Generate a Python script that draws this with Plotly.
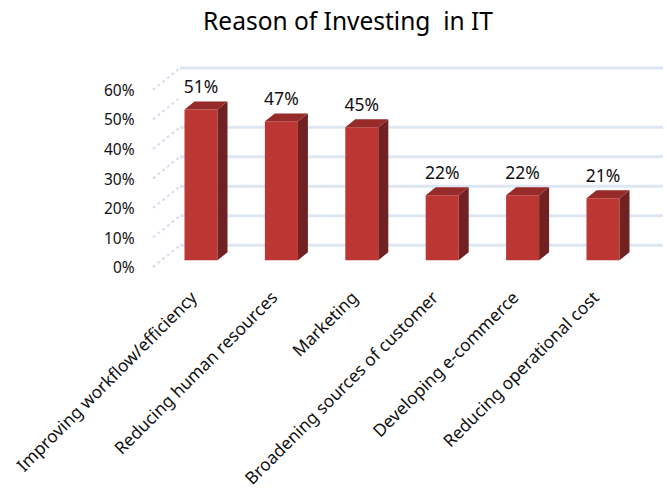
import plotly.graph_objects as go

# ---- data ----
categories = ["Improving workflow/efficiency", "Reducing human resources", "Marketing",
              "Broadening sources of customer", "Developing e-commerce", "Reducing operational cost"]
values = [51, 47, 45, 22, 22, 21]
tick_values = [0, 10, 20, 30, 40, 50, 60]
tick_labels = ["0%", "10%", "20%", "30%", "40%", "50%", "60%"]
back_grid_values = [0, 10, 20, 30, 40, 60]

# ---- geometry (pixel -> data unit conversions) ----
PX_X = 80.4      # px per category
PX_Y = 2.98      # px per percent
bar_w = 33 / PX_X
ddx = 10 / PX_X          # bar depth offset (x)
ddy = 8 / PX_Y           # bar depth offset (y)
back_dy = 15 / PX_Y      # back wall offset
front_dy = -7 / PX_Y     # front wall offset
wall_x0 = (153 - 201) / PX_X
wall_x1 = (180 - 201) / PX_X
wall_x2 = (663 - 201) / PX_X
label_x = (137 - 201) / PX_X
cat_shift = -9 / PX_X

x = list(range(len(categories)))

fig = go.Figure()

# front faces
fig.add_trace(go.Bar(x=x, y=values, width=bar_w, marker=dict(color="#bc3633", line=dict(width=0)),
                     hoverinfo="skip", showlegend=False))

# side and top faces
sx, sy = [], []
tx, ty = [], []
for xi, v in zip(x, values):
    xl, xr = xi - bar_w / 2, xi + bar_w / 2
    sx += [xr, xr + ddx, xr + ddx, xr, xr, None]
    sy += [0, ddy, v + ddy, v, 0, None]
    tx += [xl, xl + ddx, xr + ddx, xr, xl, None]
    ty += [v, v + ddy, v + ddy, v, v, None]
fig.add_trace(go.Scatter(x=sx, y=sy, fill="toself", fillcolor="#712121", mode="lines",
                         line=dict(width=0, color="#712121"), hoverinfo="skip", showlegend=False))
fig.add_trace(go.Scatter(x=tx, y=ty, fill="toself", fillcolor="#972b29", mode="lines",
                         line=dict(width=0, color="#972b29"), hoverinfo="skip", showlegend=False))

# data labels
fig.add_trace(go.Scatter(x=x, y=[v + 21 / PX_Y for v in values], mode="text",
                         text=[f"{v}%" for v in values],
                         textfont=dict(family="Noto Sans", size=17.5, color="#111111"),
                         hoverinfo="skip", showlegend=False))

# wall grid lines
shapes = []
for v in back_grid_values:
    shapes.append(dict(type="line", xref="x", yref="y", x0=wall_x1, x1=wall_x2,
                       y0=v + back_dy, y1=v + back_dy, layer="below",
                       line=dict(color="#dde7f4", width=3)))
for v in tick_values:
    shapes.append(dict(type="line", xref="x", yref="y", x0=wall_x0, x1=wall_x1,
                       y0=v + front_dy, y1=v + back_dy, layer="below",
                       line=dict(color="#d3dff0", width=2, dash="dot")))

annotations = []
for v, t in zip(tick_values, tick_labels):
    annotations.append(dict(x=label_x, y=v + front_dy, xref="x", yref="y", text=t,
                            showarrow=False, xanchor="right", yanchor="middle",
                            font=dict(family="Noto Sans", size=15.5, color="#111111")))

fig.update_layout(
    width=667, height=489,
    margin=dict(l=130, r=0, t=50, b=204),
    paper_bgcolor="white", plot_bgcolor="white",
    title=dict(text="Reason of Investing  in IT", x=348 / 667, xanchor="center",
               y=1 - 21 / 489, yanchor="middle", yref="container",
               font=dict(family="Noto Sans", size=24.5, color="#000000")),
    xaxis=dict(range=[(130 - 201) / PX_X, (667 - 201) / PX_X],
               tickvals=[xi + cat_shift for xi in x], ticktext=categories,
               tickangle=-45, showgrid=False, zeroline=False, showline=False, ticks="",
               tickfont=dict(family="Noto Sans", size=17.3, color="#111111"), fixedrange=True),
    yaxis=dict(range=[(262 - 285) / PX_Y, (262 - 50) / PX_Y], visible=False, fixedrange=True),
    shapes=shapes, annotations=annotations, showlegend=False,
)

fig.write_html("out.html")
